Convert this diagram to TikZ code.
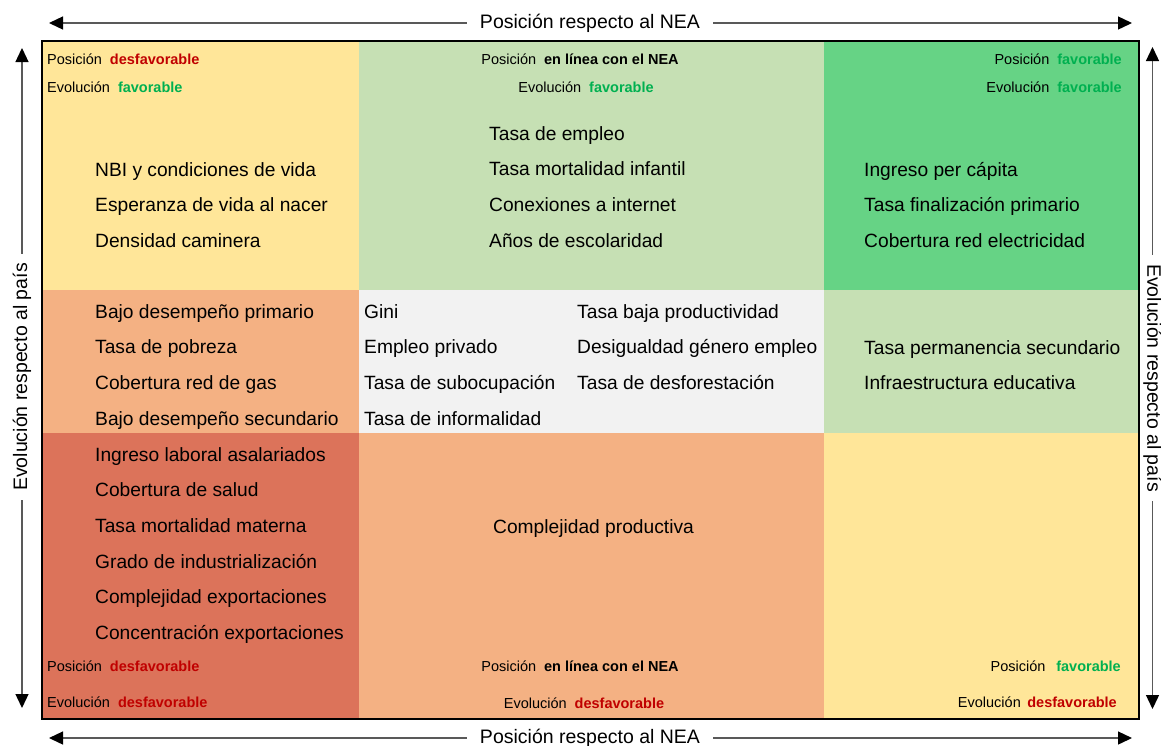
\documentclass[tikz,border=0pt]{standalone}
\usepackage{fontspec}
\setmainfont{Liberation Sans}
\usetikzlibrary{arrows.meta,positioning,matrix}
\definecolor{amarillo}{HTML}{FFE699}
\definecolor{verdeclaro}{HTML}{C6E0B4}
\definecolor{verdefuerte}{HTML}{66D385}
\definecolor{salmon}{HTML}{F4B183}
\definecolor{grisclaro}{HTML}{F2F2F2}
\definecolor{rojizo}{HTML}{DC735A}
\definecolor{txtrojo}{HTML}{C00000}
\definecolor{txtverde}{HTML}{00B050}
\newcommand{\fav}{\textcolor{txtverde}{\textbf{favorable}}}
\newcommand{\desfav}{\textcolor{txtrojo}{\textbf{desfavorable}}}

\begin{document}
\begin{tikzpicture}[x=1pt, y=-1pt,
        lista/.style={matrix of nodes, inner sep=0pt, anchor=north west,
          row sep=17.7pt,
          nodes={anchor=west, inner sep=0pt, text height=14pt, text depth=4pt,
            font=\fontsize{19.2}{22}\selectfont}},
        tag/.style={inner sep=0pt, font=\fontsize{14.5}{17}\selectfont},
        eje/.style={inner xsep=13pt, inner ysep=0pt, font=\fontsize{19.5}{22}\selectfont},
        flecha/.style={draw=gray!70!black, line width=1.3pt,
          -{Triangle[length=14pt, width=13pt, color=black]}}
        ]
        \useasboundingbox (0,0) rectangle (1161,745);
        % celdas
        \fill[amarillo]    (42,41)   rectangle (359,290);
        \fill[verdeclaro]  (359,41)  rectangle (824,290);
        \fill[verdefuerte] (824,41)  rectangle (1139,290);
        \fill[salmon]      (42,290)  rectangle (359,433);
        \fill[grisclaro]   (359,290) rectangle (824,433);
        \fill[verdeclaro]  (824,290) rectangle (1139,433);
        \fill[rojizo]      (42,433)  rectangle (359,719);
        \fill[salmon]      (359,433) rectangle (824,719);
        \fill[amarillo]    (824,433) rectangle (1139,719);
        \draw[line width=2pt] (42,41) rectangle (1139,719);

        % etiquetas de cuadrante
        \node[tag, anchor=base west] (t1a) at (47,64.2) {Posición\hspace{0.55em}\desfav};
        \node[tag, anchor=base west] (t1b) at (47,92.2) {Evolución\hspace{0.55em}\fav};
        \node[tag, anchor=base] (t2a) at (580,64.2) {Posición\hspace{0.55em}\textbf{en línea con el NEA}};
        \node[tag, anchor=base] (t2b) at (586,92.7) {Evolución\hspace{0.55em}\fav};
        \node[tag, anchor=base east] (t3a) at (1122,64.2) {Posición\hspace{0.55em}\fav};
        \node[tag, anchor=base east] (t3b) at (1122,92.2) {Evolución\hspace{0.55em}\fav};
        \node[tag, anchor=base west] (t7a) at (47,671.2) {Posición\hspace{0.55em}\desfav};
        \node[tag, anchor=base west] (t7b) at (47,707.7) {Evolución\hspace{0.55em}\desfav};
        \node[tag, anchor=base] (t8a) at (580,671.7) {Posición\hspace{0.55em}\textbf{en línea con el NEA}};
        \node[tag, anchor=base] (t8b) at (584,708.2) {Evolución\hspace{0.55em}\desfav};
        \node[tag, anchor=base east] (t9a) at (1121,671.2) {Posición\hspace{0.75em}\fav};
        \node[tag, anchor=base east] (t9b) at (1117,707.7) {Evolución\hspace{0.45em}\desfav};

        % indicadores
        \matrix[lista] (izqsup) at (95,161.8) {
          NBI y condiciones de vida \\
          Esperanza de vida al nacer \\
          Densidad caminera \\
        };
        \matrix[lista] (censup) at (489,125.8) {
          Tasa de empleo \\
          Tasa mortalidad infantil \\
          Conexiones a internet \\
          Años de escolaridad \\
        };
        \matrix[lista] (dersup) at (864,161.8) {
          Ingreso per cápita \\
          Tasa finalización primario \\
          Cobertura red electricidad \\
        };
        \matrix[lista] (izqmed) at (95,303.8) {
          Bajo desempeño primario \\
          Tasa de pobreza \\
          Cobertura red de gas \\
          Bajo desempeño secundario \\
        };
        \matrix[lista] (cenmedA) at (364,303.8) {
          Gini \\
          Empleo privado \\
          Tasa de subocupación \\
          Tasa de informalidad \\
        };
        \matrix[lista] (cenmedB) at (577,303.8) {
          Tasa baja productividad \\
          Desigualdad género empleo \\
          Tasa de desforestación \\
        };
        \matrix[lista] (dermed) at (864,339.8) {
          Tasa permanencia secundario \\
          Infraestructura educativa \\
        };
        \matrix[lista] (izqinf) at (95,446.8) {
          Ingreso laboral asalariados \\
          Cobertura de salud \\
          Tasa mortalidad materna \\
          Grado de industrialización \\
          Complejidad exportaciones \\
          Concentración exportaciones \\
        };
        \matrix[lista] (ceninf) at (493,518.8) {
          Complejidad productiva \\
        };

        % ejes
        \node[eje] (ejesup) at (590,23) {Posición respecto al NEA};
        \coordinate (supizq) at (49,23);
        \coordinate (supder) at (1132,23);
        \draw[flecha] (ejesup) -- (supizq);
        \draw[flecha] (ejesup) -- (supder);
        \node[eje] (ejeinf) at (590,738) {Posición respecto al NEA};
        \coordinate (infizq) at (49,738);
        \coordinate (infder) at (1132,738);
        \draw[flecha] (ejeinf) -- (infizq);
        \draw[flecha] (ejeinf) -- (infder);
        \node[eje, rotate=90, inner xsep=9pt] (ejeizq) at (22,377) {Evolución respecto al país};
        \coordinate (izqarr) at (22,48);
        \coordinate (izqaba) at (22,708);
        \draw[flecha] (ejeizq) -- (izqarr);
        \draw[flecha] (ejeizq) -- (izqaba);
        \node[eje, rotate=-90, inner xsep=9pt] (ejeder) at (1152.5,378) {Evolución respecto al país};
        \coordinate (derarr) at (1152.5,47);
        \coordinate (deraba) at (1152.5,709);
        \draw[flecha] (ejeder) -- (derarr);
        \draw[flecha] (ejeder) -- (deraba);
      \end{tikzpicture}
\end{document}
